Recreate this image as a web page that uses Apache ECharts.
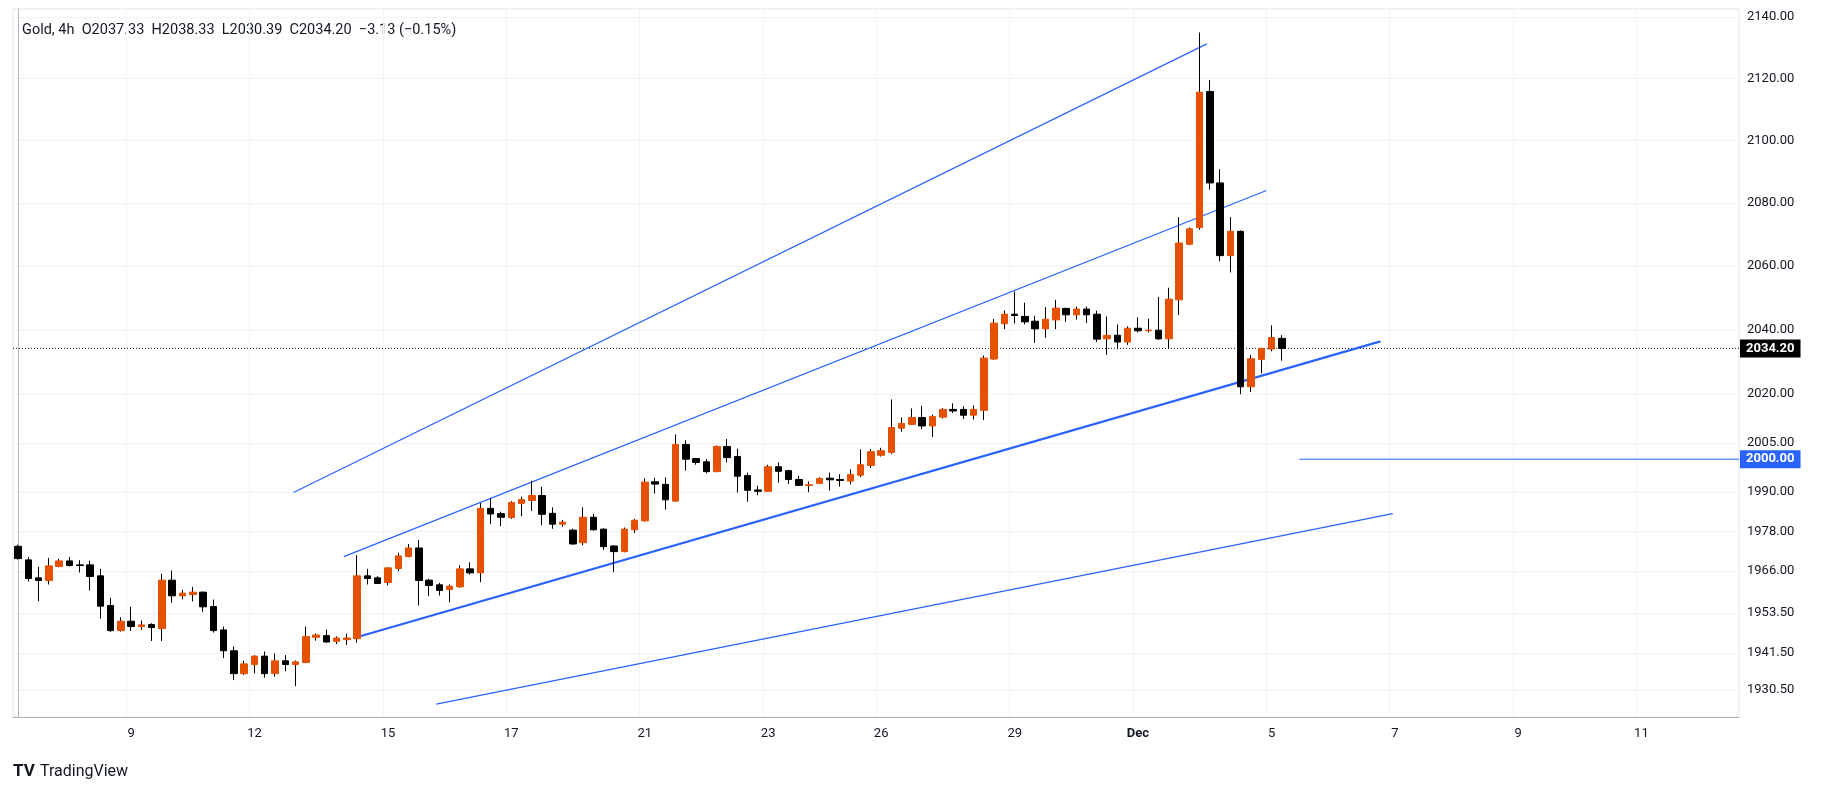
<!DOCTYPE html>
<html><head><meta charset="utf-8">
<script src="https://cdn.jsdelivr.net/npm/echarts@6/dist/echarts.min.js"></script>
<style>html,body{margin:0;padding:0;background:#fff}#c{width:1824px;height:796px}</style>
</head><body><div id="c"></div>
<script>
const opens=[1973.5,1969.4,1964,1963.2,1967.4,1969.1,1967.9,1967.9,1964.6,1955.7,1948.2,1951,1949.4,1950,1948.8,1963.3,1958.6,1959,1959.7,1955.4,1948.4,1942.2,1935.4,1938.1,1940.6,1935.4,1939.2,1938.1,1938.7,1946.2,1946.7,1945.0,1945.5,1945.8,1964.6,1964,1962.6,1966.8,1970.4,1973,1963.3,1961.9,1960.5,1961.3,1966.7,1965.5,1985,1983.4,1982.2,1986.5,1987.4,1988.9,1983.5,1980.2,1978.4,1974.6,1982.3,1978.7,1973.6,1971.9,1978.5,1981.2,1993.1,1992.3,1987.2,2004.5,2000.2,1999.2,1996.2,2003.9,2000.8,1995,1990.6,1990.2,1997.7,1996.5,1993.8,1992,1992.6,1994.2,1993.8,1993.3,1995.1,1998.1,2001.2,2002.1,2009.5,2010.7,2012.8,2010.2,2012.9,2015.3,2015.3,2013.5,2015,2030.9,2041.9,2044.9,2044.2,2042.7,2040.3,2043.1,2046.7,2044.7,2046.5,2044.9,2037.2,2038.3,2036.2,2040.5,2039.7,2039.9,2037.2,2049.4,2066.9,2072.2,2115.8,2086.4,2063.3,2071,2022.3,2030.8,2034,2037.33];
const highs=[1974,1970.2,1967.3,1970,1969.7,1970.3,1969.3,1969.2,1966.7,1958,1952.2,1955.3,1951.2,1950.4,1965.2,1966.2,1960.4,1961.3,1959.9,1957.5,1949.4,1943.5,1939.2,1940.9,1942,1941.4,1940.9,1939.3,1949.4,1947.4,1948.5,1946.5,1947.3,1970.8,1966.7,1964.5,1967.2,1971.6,1974.2,1975.4,1963.7,1962.5,1962,1967.8,1968.7,1986.6,1988,1984,1987.2,1988.6,1993.4,1991.6,1985.3,1981.5,1978.8,1985.3,1983.3,1978.9,1973.8,1979.2,1981.8,1994.2,1994.3,1994.4,2007.6,2005.8,2000.4,2000,2004.2,2006.2,2003.2,1995.9,1991.9,1998.3,1999,1996.7,1994.9,1993.2,1994.5,1995.9,1995.4,1996.9,2003,2003.1,2003.5,2018.4,2012.8,2015.6,2016.4,2013.7,2015.7,2017.2,2016.3,2016.5,2032,2043.4,2046.1,2052,2048.5,2044.4,2047.1,2049.4,2046.9,2047.3,2047.3,2046,2044.2,2041.7,2041.1,2043.9,2043.5,2050.3,2053.2,2075.5,2072.2,2135,2119.5,2090.8,2075.5,2071.3,2032.2,2034.4,2041.4,2038.33];
const lows=[1969.5,1962.9,1957,1962,1967.2,1967.4,1965.6,1960.2,1951.8,1947.8,1947.9,1948.1,1948.4,1945.1,1945.1,1956.5,1957.6,1956.9,1953.8,1947.6,1940,1933.5,1935,1935.5,1934.2,1934.5,1936.1,1931.7,1938.5,1945.2,1944.6,1944.2,1943.9,1944.6,1962,1962.2,1961.7,1966,1970.2,1955.7,1958.5,1958.7,1956.7,1961,1965,1962.7,1980.2,1979.6,1981.8,1982.6,1984.2,1979.9,1978.8,1979.4,1974,1973.8,1978.3,1972.4,1965.7,1971.7,1977.5,1981,1989.5,1984.6,1987,1996.5,1998.3,1995.7,1996,1999,1989.8,1987,1989,1990,1992.8,1992.4,1991.8,1989.9,1992.4,1990.4,1991.6,1992.3,1994.5,1997.3,2000.8,2001.6,2008.4,2010.5,2009.2,2006.8,2012.5,2014.2,2012.3,2012.2,2012,2030.6,2040.2,2042,2041.7,2035.9,2037.5,2040.2,2042.5,2043.2,2042.1,2036.2,2032.2,2033.9,2035.3,2039.2,2039.2,2036.8,2034.2,2044.6,2066.6,2071.5,2084.2,2061.5,2058,2020,2020.7,2026.5,2033.3,2030.39];
const closes=[1969.8,1963.8,1963.2,1967.6,1969.1,1967.7,1967.7,1964.4,1955.5,1948.2,1951,1949.4,1949.9,1949.1,1963.3,1958.6,1959.4,1959.7,1955.3,1948.2,1942.2,1935.4,1938.3,1940.6,1935.4,1939.2,1938.1,1938.9,1946.4,1946.9,1944.8,1946.0,1946,1964.6,1963.8,1962.3,1967,1970.6,1973,1963.2,1961.7,1960.2,1961.5,1966.7,1965.5,1985,1983.3,1982.3,1986.8,1987.7,1988.9,1983.2,1980.2,1980.8,1974.2,1982.3,1978.5,1973.4,1971.9,1978.7,1981.4,1993,1992.4,1987.6,2004.5,2000,1999,1996.2,2003.9,2000.5,1994.8,1990.5,1990.2,1997.7,1996.3,1993.8,1992,1992.2,1994.1,1993.7,1993.5,1995.3,1998.3,2002.3,2002.6,2009.7,2011,2012.8,2010.2,2013.1,2015.3,2014.8,2013.5,2015.3,2031.2,2042.1,2044.9,2044.5,2042.5,2040.3,2043.3,2046.8,2044.7,2046.5,2044.7,2037.1,2038.3,2036.2,2040.5,2039.7,2039.9,2037.2,2049.6,2067.3,2071.8,2115.6,2086.4,2063.3,2071,2022.3,2031,2034.2,2037.6,2034.20];
const totalSlots=168;
const dayLabels=['9','12','15','17','21','23','26','29','Dec','5','7','9','11'];
const dayIndex=[11,23,36,48,61,73,84,97,109,122,134,146,158];
const priceTicks=[1930.5,1941.5,1953.5,1966,1978,1990,2005,2020,2040,2060,2080,2100,2120,2140];
// trend lines: [startIdx,startPrice,endIdx,endPrice]
const trendUpper=[26.8,1989.8,115.7,2131.3];
const trendMiddle=[31.7,1970.4,121.5,2084.0];
const trendSupport=[32.7,1946.0,132.6,2036.4];
const trendLower=[40.7,1926.4,133.8,1983.4];
const levelLine=[124.7,2000];
const lastPrice=2034.20;

const cats=[];for(let i=0;i<totalSlots;i++){const k=dayIndex.indexOf(i);cats.push(k>=0?dayLabels[k]:'');}
const wicks=opens.map((o,i)=>[o,closes[i],lows[i],highs[i]]);
const bodies=opens.map((o,i)=>{const c=closes[i];return [o,c,Math.min(o,c),Math.max(o,c)];});
const isLab=(i)=>dayIndex.indexOf(i)>=0;
const blue='#2962ff';
function seg(t,w,c){return {type:'line',xAxisIndex:1,data:[[t[0],t[1]],[t[2],t[3]]],symbol:'none',silent:true,lineStyle:{color:c||blue,width:w},z:5};}
const chart=echarts.init(document.getElementById('c'));
chart.setOption({
 animation:false,backgroundColor:'#fff',
 grid:{left:13,right:85,top:9,bottom:79,show:true,borderColor:'#e0e3eb',borderWidth:1},
 xAxis:[{type:'category',data:cats,boundaryGap:true,
   axisLine:{lineStyle:{color:'#b2b5be'}},axisTick:{show:false},
   axisLabel:{interval:(i)=>isLab(i),color:'#131722',fontSize:13,margin:10,fontFamily:'Roboto',
     formatter:(v)=>v==='Dec'?'{b|Dec}':v,rich:{b:{fontWeight:'bold',fontSize:13,color:'#131722'}}},
   splitLine:{show:true,interval:(i)=>isLab(i),lineStyle:{color:'#f0f3fa'}}},
  {type:'value',min:-0.5,max:totalSlots-0.5,show:false}],
 yAxis:{type:'log',logBase:10,min:1922.6,max:2142.7,position:'right',
   axisLine:{show:true,lineStyle:{color:'#b2b5be'}},axisTick:{show:false,customValues:priceTicks},
   axisLabel:{customValues:priceTicks,color:'#131722',fontSize:13,margin:8,fontFamily:'Roboto',formatter:(v)=>v.toFixed(2)},
   splitLine:{show:true,lineStyle:{color:'#f0f3fa'}}},
 series:[
  {type:'candlestick',data:wicks,barWidth:1,z:9,
   itemStyle:{color:'#000',color0:'#000',borderColor:'#000',borderColor0:'#000',borderWidth:1}},
  {type:'candlestick',data:bodies,barWidth:7,z:10,
   itemStyle:{color:'#e65100',color0:'#000',borderColor:'#e65100',borderColor0:'#000',borderWidth:1}},
  seg(trendUpper,1.2),seg(trendMiddle,1.2),seg(trendSupport,2.2),seg(trendLower,1.2),
  {type:'line',xAxisIndex:1,data:[[levelLine[0],levelLine[1]],[totalSlots-0.5,levelLine[1]]],symbol:'none',silent:true,
   lineStyle:{color:blue,width:1},z:5,
   endLabel:{show:true,formatter:'2000.00',backgroundColor:blue,color:'#fff',fontSize:13,fontWeight:'bold',padding:[3,6,2,6],distance:1,fontFamily:'Roboto'}},
  {type:'line',xAxisIndex:1,data:[[-0.5,lastPrice],[totalSlots-0.5,lastPrice]],symbol:'none',silent:true,
   lineStyle:{color:'#131722',width:1,type:[1,2]},z:4,
   endLabel:{show:true,formatter:'2034.20',backgroundColor:'#000',color:'#fff',fontSize:13,fontWeight:'bold',padding:[3,6,2,6],distance:1,fontFamily:'Roboto'}}
 ],
 graphic:[
  {type:'text',left:22,top:23,style:{text:'Gold, 4h  O2037.33  H2038.33  L2030.39  C2034.20  −3.13 (−0.15%)',fill:'#131722',font:'14.5px Roboto'}},
  {type:'text',left:13,top:763,style:{text:'TV',fill:'#131722',font:'bold 17px Roboto'}},
  {type:'text',left:40,top:764,style:{text:'TradingView',fill:'#131722',font:'16px Roboto'}}
 ]
});
</script></body></html>
